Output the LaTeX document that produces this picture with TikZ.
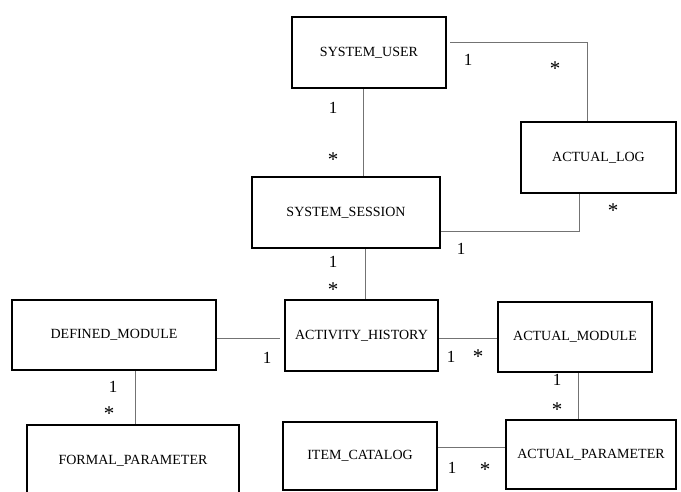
\documentclass[tikz,border=0pt]{standalone}
\usepackage{fontspec}
\setmainfont{Liberation Serif}
\begin{document}
\begin{tikzpicture}[x=1pt,y=-1pt,
  entity/.style={draw=black,line width=2.2pt,fill=white,inner sep=0pt,
    font=\fontsize{14}{16}\selectfont},
  link/.style={draw=black!55,line width=0.9pt},
  mult/.style={inner sep=0pt,font=\fontsize{17}{19}\selectfont},
  many/.style={inner sep=0pt,font=\fontsize{21}{23}\selectfont}]
\useasboundingbox (0,0) rectangle (681,491);
\clip (0,0) rectangle (681,491);

% entities: centre and size in pixel units
\node[entity,minimum width=154pt,minimum height=71pt] (su) at (369,52.5) {SYSTEM\_USER};
\node[entity,minimum width=155pt,minimum height=71pt] (al) at (598.5,157.5) {ACTUAL\_LOG};
\node[entity,minimum width=188pt,minimum height=71pt] (ss) at (346,212.5) {SYSTEM\_SESSION};
\node[entity,minimum width=204pt,minimum height=70pt] (dm) at (114,335) {DEFINED\_MODULE};
\node[entity,minimum width=153pt,minimum height=71pt] (ah) at (361.5,335.5) {ACTIVITY\_HISTORY};
\node[entity,minimum width=154pt,minimum height=70pt] (am) at (575,337) {ACTUAL\_MODULE};
\node[entity,minimum width=212pt,minimum height=70pt,text depth=0pt] (fp) at (133,460) {FORMAL\_PARAMETER};
\node[entity,minimum width=154pt,minimum height=68pt] (ic) at (360,456) {ITEM\_CATALOG};
\node[entity,minimum width=170pt,minimum height=69pt] (ap) at (591,454.5) {ACTUAL\_PARAMETER};

% associations
\draw[link] ([shift={(3,-10.5)}]su.east) -| ([xshift=-11.5pt]al.north);
\draw[link] (su.south -| 363,0) -- (ss.north -| 363,0);
\draw[link] (al.south -| 579,0) |- (ss.east |- 0,231);
\draw[link] (ss.south -| 365,0) -- (ah.north -| 365,0);
\draw[link] (dm.east |- 0,338) -- ([xshift=-4pt]ah.west |- 0,338);
\draw[link] (ah.east |- 0,338) -- (am.west |- 0,338);
\draw[link] (dm.south -| 135,0) -- (fp.north -| 135,0);
\draw[link] (am.south -| 578,0) -- (ap.north -| 578,0);
\draw[link] (ic.east |- 0,447) -- (ap.west |- 0,447);

% multiplicities
\node[mult] (m1) at (468,60) {1};
\node[many] (m2) at (555,69) {*};
\node[mult] (m3) at (333,108) {1};
\node[many] (m4) at (333,160) {*};
\node[many] (m5) at (613,211) {*};
\node[mult] (m6) at (461,249) {1};
\node[mult] (m7) at (333,262) {1};
\node[many] (m8) at (333,290) {*};
\node[mult] (m9) at (267,358) {1};
\node[mult] (m10) at (451,357) {1};
\node[many] (m11) at (478,357) {*};
\node[mult] (m12) at (113,387) {1};
\node[many] (m13) at (109,414) {*};
\node[mult] (m14) at (557,380) {1};
\node[many] (m15) at (557,410) {*};
\node[mult] (m16) at (452,468) {1};
\node[many] (m17) at (485,470) {*};
\end{tikzpicture}
\end{document}
